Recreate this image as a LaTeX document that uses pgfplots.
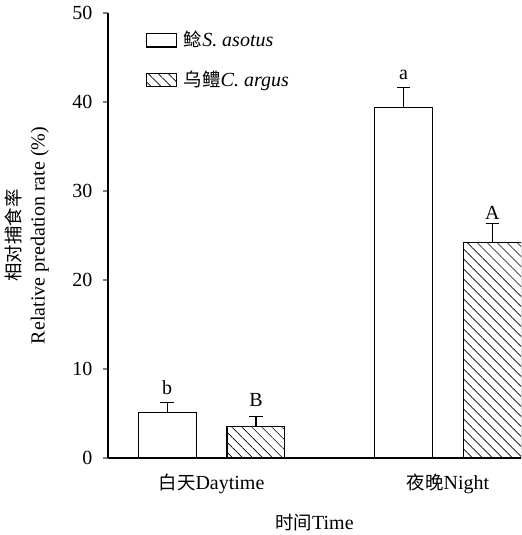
\documentclass[border=0pt]{standalone}
\usepackage{fontspec}
\setmainfont{Liberation Serif}
\newfontfamily\cjk[Scale=0.92]{Noto Sans CJK SC}
\usepackage{pgfplots}
\pgfplotsset{compat=1.18}
\usetikzlibrary{patterns.meta}
\begin{document}
\fontsize{15}{18}\selectfont
\begin{tikzpicture}
\begin{axis}[
  scale only axis, width=309.75pt, height=333.75pt,
  xmin=0.562, xmax=2.309, ymin=0, ymax=50,
  axis x line=bottom, axis y line=left,
  axis line style={-, line width=0.8pt},
  ytick={0,10,...,50}, xtick={1,2},
  xticklabels={{\cjk 白天}Daytime, {\cjk 夜晚}Night},
  x tick style={draw=none},
  y tick style={line width=0.8pt},
  tick align=outside, major tick length=4pt,
  tick label style={font=\fontsize{15}{18}\selectfont},
  yticklabel style={xshift=-2.5pt},
  xticklabel style={yshift=-3pt},
  /pgf/number format/assume math mode=true,
  xlabel={{\cjk 时间}Time},
  xlabel style={font=\fontsize{15}{18}\selectfont, yshift=-5pt},
  ylabel={{\cjk 相对捕食率}\\Relative predation rate (\%)},
  ylabel style={align=center, font=\fontsize{15}{18}\selectfont, yshift=7.5pt},
  legend style={at={(0.082,0.972)}, anchor=north west, draw=none, fill=none,
    row sep=12pt, font=\fontsize{15}{18}\selectfont, cells={anchor=west},
    nodes={inner xsep=5pt}},
  legend cell align=left,
  legend image code/.code={\draw[#1] (0pt,-5pt) rectangle (22.5pt,5pt);},
]
\addplot[ybar, bar width=0.245, bar shift=0pt, draw=black, fill=white, line width=0.8pt,
  error bars/.cd, y dir=plus, y explicit,
  error mark options={rotate=90, mark size=5pt, line width=0.8pt},
  error bar style={line width=0.8pt}]
  table[x=x, y=y, y error=e] {
  x y e
  0.812 5.1 1.1
  1.812 39.4 2.2
  };
\addlegendentry{{\cjk 鲶}\textit{S. asotus}}
\addplot[ybar, bar width=0.245, bar shift=0pt, draw=black, line width=0.8pt,
  pattern={Lines[angle=-45, distance=5.3pt, line width=0.5pt]},
  error bars/.cd, y dir=plus, y explicit,
  error mark options={rotate=90, mark size=5pt, line width=0.8pt},
  error bar style={line width=0.8pt}]
  table[x=x, y=y, y error=e] {
  x y e
  1.188 3.5 1.2
  2.188 24.2 2.1
  };
\addlegendentry{{\cjk 乌鳢}\textit{C. argus}}
\node at (axis cs:0.812,7.9) {b};
\node at (axis cs:1.188,6.5) {B};
\node at (axis cs:1.812,43.0) {a};
\node at (axis cs:2.188,27.5) {A};
\end{axis}
\pgfresetboundingbox
\path ([xshift=-81pt,yshift=-57.75pt]current axis.south west) rectangle ([yshift=9.75pt]current axis.north east);
\end{tikzpicture}
\end{document}
